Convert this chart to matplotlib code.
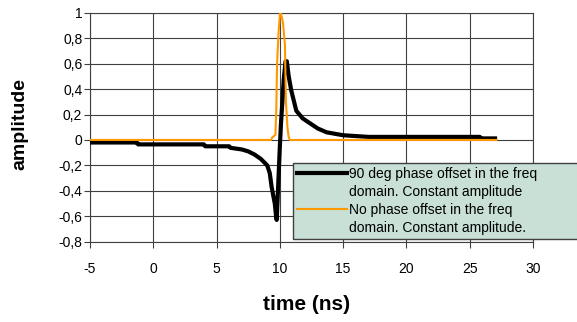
import matplotlib
matplotlib.use("Agg")
import matplotlib.pyplot as plt
from matplotlib.lines import Line2D

plt.rcParams['font.family'] = ['Liberation Sans', 'DejaVu Sans']

# ---- data ----
t_black = [-5, -1.3, -1.2, 4.0, 4.1, 6.0, 6.1, 7.0, 7.5, 8.0, 8.5, 9.0, 9.2,
           9.35, 9.5, 9.6, 9.7, 9.75, 9.85, 10.0, 10.1, 10.2, 10.3, 10.45,
           10.55, 10.7, 10.9, 11.3, 11.8, 12.4, 13.0, 13.7, 15.0, 17.0, 25.8,
           25.9, 27.0]
a_black = [-0.02, -0.02, -0.035, -0.035, -0.05, -0.05, -0.062, -0.075, -0.09,
           -0.115, -0.15, -0.2, -0.26, -0.37, -0.45, -0.5, -0.6, -0.63, -0.4,
           -0.05, 0.15, 0.3, 0.47, 0.62, 0.62, 0.5, 0.39, 0.23, 0.17, 0.13,
           0.09, 0.06, 0.037, 0.024, 0.024, 0.012, 0.012]

t_orange = [-5, 9.3, 9.4, 9.65, 9.72, 9.78, 9.9, 10.0, 10.05, 10.15, 10.25,
            10.4, 10.48, 10.6, 10.7, 10.8, 27.1]
a_orange = [0, 0, 0.02, 0.04, 0.25, 0.6, 0.85, 0.98, 1.0, 0.97, 0.92, 0.75,
            0.3, 0.1, 0.02, 0, 0]

xticks = [-5, 0, 5, 10, 15, 20, 25, 30]
xtick_labels = ['-5', '0', '5', '10', '15', '20', '25', '30']
yticks = [-0.8, -0.6, -0.4, -0.2, 0, 0.2, 0.4, 0.6, 0.8, 1]
ytick_labels = ['-0,8', '-0,6', '-0,4', '-0,2', '0', '0,2', '0,4', '0,6', '0,8', '1']

label_black = ["90 deg phase offset in the freq", "domain. Constant amplitude"]
label_orange = ["No phase offset in the freq", "domain. Constant amplitude."]

# ---- figure ----
W, H = 577, 322
fig = plt.figure(figsize=(W / 100, H / 100), dpi=100)
ax = fig.add_axes([90 / W, 1 - 241.5 / H, (533 - 90) / W, (241.5 - 13) / H])

ax.plot(t_black, a_black, color='black', lw=3, solid_joinstyle='round', zorder=3)
ax.plot(t_orange, a_orange, color='#ff9900', lw=1.5, zorder=4)

ax.set_xlim(-5, 30)
ax.set_ylim(-0.8, 1)
ax.set_xticks(xticks)
ax.set_xticklabels(xtick_labels)
ax.set_yticks(yticks)
ax.set_yticklabels(ytick_labels)
ax.grid(True, color='#404040', lw=0.8)
ax.set_axisbelow(True)
for s in ax.spines.values():
    s.set_color('#404040')
    s.set_linewidth(0.8)
ax.tick_params(axis='x', direction='out', length=4, width=0.8, color='#404040',
               pad=11, labelsize=10)
ax.tick_params(axis='y', direction='out', length=4, width=0.8, color='#404040',
               pad=1.5, labelsize=10)

fig.text(20 / W, 1 - 124 / H, 'amplitude', rotation=90, ha='center', va='center',
         fontsize=14, fontweight='bold')
fig.text(307 / W, 1 - 305 / H, 'time (ns)', ha='center', va='center',
         fontsize=15, fontweight='bold')

handles = [Line2D([], [], color='black', lw=3),
           Line2D([], [], color='none'),
           Line2D([], [], color='#ff9900', lw=1.5),
           Line2D([], [], color='none')]
labels = [label_black[0], label_black[1], label_orange[0], label_orange[1]]
leg = fig.legend(handles, labels, loc='upper left',
                 bbox_to_anchor=(293 / W, 1 - 163 / H - 0.3, (600 - 293) / W, 0.3),
                 mode='expand', fontsize=10, handlelength=3.6, handletextpad=0.15,
                 labelspacing=0.29, borderpad=0.3, borderaxespad=0,
                 fancybox=False, framealpha=1, facecolor='#c8e0d6',
                 edgecolor='#404040')
leg.get_frame().set_linewidth(1)

fig.savefig('out.png', dpi=100)
